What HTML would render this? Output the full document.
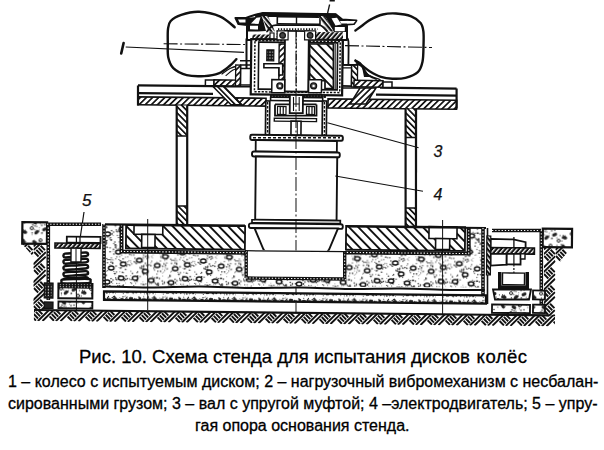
<!DOCTYPE html>
<html><head><meta charset="utf-8">
<style>
html,body{margin:0;padding:0;background:#fff;}
body{width:604px;height:450px;overflow:hidden;position:relative;font-family:"Liberation Sans",sans-serif;color:#111;}
.t{position:absolute;white-space:nowrap;left:0;color:#000;-webkit-text-stroke:0.3px #000;}
#t0{font-size:18.5px;left:79px;top:346px;}
#t1{font-size:16px;left:8px;top:372.9px;}
#t2{font-size:16px;left:8px;top:394.7px;}
#t3{font-size:16px;left:195px;top:416.8px;}
svg{position:absolute;left:0;top:0;}
.lb{position:absolute;font-family:"Liberation Sans",sans-serif;font-style:italic;font-size:15px;line-height:1;color:#111;-webkit-text-stroke:0.25px #111;}
</style></head><body>
<svg width="604" height="340" viewBox="0 0 604 340"><defs><pattern id="hA" patternUnits="userSpaceOnUse" width="4.3" height="4.3" patternTransform="rotate(45)"><rect width="4.3" height="4.3" fill="#fff"/><rect width="1.7" height="4.3" fill="#111"/></pattern><pattern id="hB" patternUnits="userSpaceOnUse" width="4.3" height="4.3" patternTransform="rotate(-45)"><rect width="4.3" height="4.3" fill="#fff"/><rect width="1.7" height="4.3" fill="#111"/></pattern><pattern id="hBw" patternUnits="userSpaceOnUse" width="6.6" height="6.6" patternTransform="rotate(-45)"><rect width="6.6" height="6.6" fill="#fff"/><rect width="1.9" height="6.6" fill="#111"/></pattern><pattern id="hAw" patternUnits="userSpaceOnUse" width="5.5" height="5.5" patternTransform="rotate(45)"><rect width="5.5" height="5.5" fill="#fff"/><rect width="1.6" height="5.5" fill="#111"/></pattern><pattern id="hX" patternUnits="userSpaceOnUse" width="2.6" height="2.6"><rect width="2.6" height="2.6" fill="#fff"/><rect width="1.3" height="1.3" fill="#111"/></pattern><pattern id="sB" patternUnits="userSpaceOnUse" width="3.6" height="3.6" patternTransform="rotate(-40)"><rect width="3.6" height="3.6" fill="#111"/><rect width="1.4" height="3.6" fill="#fff"/></pattern><pattern id="sA" patternUnits="userSpaceOnUse" width="3.4" height="3.4" patternTransform="rotate(40)"><rect width="3.4" height="3.4" fill="#111"/><rect width="1.3" height="3.4" fill="#fff"/></pattern><pattern id="sD" patternUnits="userSpaceOnUse" width="3" height="3"><rect width="3" height="3" fill="#111"/><rect x="0.8" y="0.8" width="1.2" height="1.2" fill="#fff"/></pattern><pattern id="conc" patternUnits="userSpaceOnUse" width="64" height="48"><rect width="64" height="48" fill="#fff"/><circle cx="20.73" cy="7.24" r="0.66" fill="#222"/><circle cx="4.64" cy="25.72" r="0.55" fill="#222"/><circle cx="3.71" cy="24.36" r="0.41" fill="#222"/><circle cx="27.75" cy="3.35" r="0.44" fill="#222"/><circle cx="27.17" cy="39.69" r="0.45" fill="#222"/><circle cx="14.29" cy="30.12" r="0.78" fill="#222"/><circle cx="36.93" cy="19.04" r="0.79" fill="#222"/><circle cx="2.98" cy="41.21" r="0.52" fill="#222"/><circle cx="9.23" cy="5.65" r="0.52" fill="#222"/><circle cx="52.23" cy="8.67" r="0.63" fill="#222"/><circle cx="40.89" cy="17.88" r="0.62" fill="#222"/><circle cx="4.02" cy="2.86" r="0.48" fill="#222"/><circle cx="43.55" cy="20.52" r="0.53" fill="#222"/><circle cx="37.48" cy="21.75" r="0.52" fill="#222"/><circle cx="50.84" cy="33.55" r="0.5" fill="#222"/><circle cx="36.76" cy="25.21" r="0.75" fill="#222"/><circle cx="46.68" cy="13.82" r="0.79" fill="#222"/><circle cx="7.56" cy="20.07" r="0.7" fill="#222"/><circle cx="9.73" cy="23.47" r="0.42" fill="#222"/><circle cx="42.77" cy="36.7" r="0.63" fill="#222"/><circle cx="56.03" cy="15.06" r="0.68" fill="#222"/><circle cx="38.04" cy="27.83" r="0.58" fill="#222"/><circle cx="53.76" cy="45.34" r="0.59" fill="#222"/><circle cx="42.51" cy="2.91" r="0.68" fill="#222"/><circle cx="41.42" cy="47.67" r="0.73" fill="#222"/><circle cx="18.21" cy="18.52" r="0.67" fill="#222"/><circle cx="1.44" cy="22.16" r="0.47" fill="#222"/><circle cx="7.49" cy="2.83" r="0.71" fill="#222"/><circle cx="8.28" cy="11.89" r="0.56" fill="#222"/><circle cx="55.77" cy="3.87" r="0.58" fill="#222"/><circle cx="35.16" cy="42.4" r="0.73" fill="#222"/><circle cx="55.3" cy="13.36" r="0.57" fill="#222"/><circle cx="22.96" cy="42.44" r="0.78" fill="#222"/><circle cx="9.66" cy="8.46" r="0.49" fill="#222"/><circle cx="14.93" cy="23.28" r="0.64" fill="#222"/><circle cx="16.82" cy="0.2" r="0.57" fill="#222"/><circle cx="23.63" cy="27.18" r="0.78" fill="#222"/><circle cx="44.19" cy="24.74" r="0.65" fill="#222"/><circle cx="43.28" cy="2.59" r="0.76" fill="#222"/><circle cx="49.92" cy="41.98" r="0.72" fill="#222"/><circle cx="25.11" cy="19.15" r="0.44" fill="#222"/><circle cx="40.59" cy="2.99" r="0.43" fill="#222"/><circle cx="13.36" cy="7.79" r="0.54" fill="#222"/><circle cx="3.36" cy="0.01" r="0.46" fill="#222"/><circle cx="6.49" cy="17.45" r="0.41" fill="#222"/><circle cx="55.96" cy="29.48" r="0.46" fill="#222"/><circle cx="16.14" cy="16.67" r="0.55" fill="#222"/><circle cx="7.86" cy="40.75" r="0.8" fill="#222"/><circle cx="29.82" cy="23.22" r="0.43" fill="#222"/><circle cx="6.54" cy="16.45" r="0.51" fill="#222"/><circle cx="53.05" cy="7.75" r="0.41" fill="#222"/><circle cx="60.86" cy="25.36" r="0.46" fill="#222"/><circle cx="34.76" cy="1.3" r="0.61" fill="#222"/><circle cx="62.62" cy="41.44" r="0.68" fill="#222"/><circle cx="16.71" cy="17.6" r="0.47" fill="#222"/><circle cx="49.4" cy="25.56" r="0.71" fill="#222"/><circle cx="21.1" cy="10.71" r="0.72" fill="#222"/><circle cx="63.04" cy="40.93" r="0.72" fill="#222"/><circle cx="52.37" cy="35.51" r="0.49" fill="#222"/><circle cx="33.13" cy="17.07" r="0.41" fill="#222"/><circle cx="1.79" cy="13.41" r="0.5" fill="#222"/><circle cx="44.32" cy="45.91" r="0.58" fill="#222"/><circle cx="59.97" cy="47.43" r="0.78" fill="#222"/><circle cx="23.34" cy="10.58" r="0.49" fill="#222"/><circle cx="12.59" cy="9.81" r="0.65" fill="#222"/><circle cx="57.62" cy="40.34" r="0.59" fill="#222"/><circle cx="41.79" cy="38.38" r="0.43" fill="#222"/><circle cx="42.28" cy="43.67" r="0.71" fill="#222"/><circle cx="48.01" cy="22.95" r="0.47" fill="#222"/><circle cx="50.5" cy="15.96" r="0.72" fill="#222"/><circle cx="62.19" cy="19" r="0.56" fill="#222"/><circle cx="60.6" cy="34.79" r="0.47" fill="#222"/><circle cx="8.13" cy="7.26" r="0.76" fill="#222"/><circle cx="51.62" cy="7.02" r="0.73" fill="#222"/><circle cx="62.74" cy="31.55" r="0.54" fill="#222"/><circle cx="35.11" cy="6.29" r="0.41" fill="#222"/><circle cx="62.14" cy="31.18" r="0.61" fill="#222"/><circle cx="59.75" cy="20.82" r="0.75" fill="#222"/><circle cx="52.87" cy="10.13" r="0.5" fill="#222"/><circle cx="18.75" cy="11.55" r="0.63" fill="#222"/><circle cx="16.6" cy="20.11" r="0.45" fill="#222"/><circle cx="58.24" cy="16.98" r="0.58" fill="#222"/><circle cx="37.33" cy="43.41" r="0.57" fill="#222"/><circle cx="58.73" cy="24.08" r="0.61" fill="#222"/><circle cx="33.5" cy="0.9" r="0.58" fill="#222"/><circle cx="11.72" cy="0.19" r="0.72" fill="#222"/><circle cx="11.03" cy="22.73" r="0.69" fill="#222"/><circle cx="35.61" cy="15.65" r="0.61" fill="#222"/><circle cx="35.55" cy="37.65" r="0.44" fill="#222"/><circle cx="35.86" cy="11.93" r="0.51" fill="#222"/><circle cx="49.42" cy="24.37" r="0.62" fill="#222"/><circle cx="48.64" cy="43.8" r="0.58" fill="#222"/><circle cx="39.2" cy="24.27" r="0.6" fill="#222"/><circle cx="44.33" cy="21.71" r="0.61" fill="#222"/><circle cx="30.59" cy="45.19" r="0.68" fill="#222"/><circle cx="56.1" cy="45.22" r="0.5" fill="#222"/><circle cx="35.81" cy="45.28" r="0.74" fill="#222"/><circle cx="8.78" cy="5.84" r="0.58" fill="#222"/><circle cx="4.64" cy="11.55" r="0.43" fill="#222"/><circle cx="42.85" cy="37.63" r="0.76" fill="#222"/><circle cx="9.88" cy="34.37" r="0.66" fill="#222"/><circle cx="9.15" cy="42.38" r="0.79" fill="#222"/><circle cx="14.05" cy="45.72" r="0.56" fill="#222"/><circle cx="31.18" cy="47.51" r="0.73" fill="#222"/><circle cx="10.33" cy="20.71" r="0.61" fill="#222"/><circle cx="21.7" cy="9.4" r="0.53" fill="#222"/><circle cx="46.22" cy="0.94" r="0.62" fill="#222"/><circle cx="28.19" cy="0.87" r="0.53" fill="#222"/><circle cx="39.93" cy="24.59" r="0.43" fill="#222"/><circle cx="63.05" cy="37.84" r="0.79" fill="#222"/><circle cx="6.71" cy="12.75" r="0.42" fill="#222"/><circle cx="49.86" cy="12.98" r="0.45" fill="#222"/><circle cx="27.02" cy="43.75" r="0.73" fill="#222"/><circle cx="16.55" cy="7.17" r="0.77" fill="#222"/><circle cx="36.52" cy="33.62" r="0.44" fill="#222"/><circle cx="3.68" cy="33.03" r="0.57" fill="#222"/><circle cx="4.63" cy="45.04" r="0.65" fill="#222"/><circle cx="51.3" cy="4.02" r="0.74" fill="#222"/><circle cx="4.26" cy="41.41" r="0.58" fill="#222"/><circle cx="21.71" cy="26.55" r="0.77" fill="#222"/><circle cx="17.14" cy="6.2" r="0.61" fill="#222"/><circle cx="15.26" cy="5.25" r="0.46" fill="#222"/><circle cx="3.22" cy="9.68" r="0.52" fill="#222"/><circle cx="19.52" cy="36.46" r="0.52" fill="#222"/><circle cx="32.01" cy="8.54" r="0.54" fill="#222"/><circle cx="1.16" cy="12.02" r="0.41" fill="#222"/><circle cx="46.92" cy="26.45" r="0.48" fill="#222"/><circle cx="30.38" cy="44.86" r="0.44" fill="#222"/><circle cx="52.41" cy="20.74" r="0.6" fill="#222"/><circle cx="53.42" cy="18.87" r="0.6" fill="#222"/><circle cx="44.02" cy="47.16" r="0.54" fill="#222"/><circle cx="53.27" cy="33.92" r="0.65" fill="#222"/><circle cx="25.9" cy="16.68" r="0.42" fill="#222"/><circle cx="8.31" cy="3.39" r="0.7" fill="#222"/><circle cx="16.36" cy="7.84" r="0.43" fill="#222"/><circle cx="53.84" cy="41.79" r="0.67" fill="#222"/><circle cx="18.04" cy="11.63" r="0.52" fill="#222"/><circle cx="29.4" cy="7.56" r="0.58" fill="#222"/><circle cx="16.85" cy="46.17" r="0.79" fill="#222"/><circle cx="35.01" cy="11.73" r="0.79" fill="#222"/><circle cx="19.81" cy="17.12" r="0.4" fill="#222"/><circle cx="24.42" cy="22.78" r="0.6" fill="#222"/><circle cx="12.86" cy="24.23" r="0.4" fill="#222"/><circle cx="16.91" cy="4.31" r="0.56" fill="#222"/><circle cx="2.67" cy="1.08" r="0.52" fill="#222"/><circle cx="14.9" cy="28.11" r="0.61" fill="#222"/><circle cx="48.03" cy="31.56" r="0.69" fill="#222"/><circle cx="56.26" cy="18.7" r="0.53" fill="#222"/><circle cx="63.02" cy="7.17" r="0.69" fill="#222"/><circle cx="41.17" cy="2.1" r="0.73" fill="#222"/><circle cx="57.08" cy="30.11" r="0.69" fill="#222"/><circle cx="51.98" cy="6.69" r="0.61" fill="#222"/><circle cx="32.28" cy="40.08" r="0.72" fill="#222"/><circle cx="52.89" cy="28.03" r="0.76" fill="#222"/><circle cx="43.71" cy="33.28" r="0.49" fill="#222"/><circle cx="1.99" cy="6.39" r="0.54" fill="#222"/><circle cx="6.71" cy="40.12" r="0.62" fill="#222"/><circle cx="40.18" cy="30.06" r="0.67" fill="#222"/><circle cx="31.31" cy="0.16" r="0.72" fill="#222"/><circle cx="47.89" cy="24.14" r="0.61" fill="#222"/><circle cx="42.2" cy="3.17" r="0.69" fill="#222"/><circle cx="16.14" cy="3.57" r="0.51" fill="#222"/><circle cx="46.68" cy="9.85" r="0.7" fill="#222"/><circle cx="62.45" cy="23.71" r="0.55" fill="#222"/><circle cx="30.66" cy="32.82" r="0.71" fill="#222"/><circle cx="39.49" cy="30.85" r="0.43" fill="#222"/><circle cx="9.44" cy="12.19" r="0.7" fill="#222"/><circle cx="19.48" cy="27.25" r="0.4" fill="#222"/><circle cx="3.88" cy="12.9" r="0.67" fill="#222"/><circle cx="44.3" cy="32.43" r="0.52" fill="#222"/><circle cx="33.06" cy="22.3" r="0.59" fill="#222"/><circle cx="7.58" cy="42.9" r="0.48" fill="#222"/><circle cx="62.6" cy="44.94" r="0.41" fill="#222"/><circle cx="29.37" cy="39.36" r="0.79" fill="#222"/><circle cx="28.76" cy="12.9" r="0.48" fill="#222"/><circle cx="60.52" cy="10.11" r="0.63" fill="#222"/><circle cx="9.07" cy="25.16" r="0.78" fill="#222"/><circle cx="8.49" cy="39.37" r="0.6" fill="#222"/><circle cx="56.76" cy="33.76" r="0.49" fill="#222"/><circle cx="57.45" cy="23.33" r="0.41" fill="#222"/><circle cx="0.23" cy="23.6" r="0.58" fill="#222"/><circle cx="19.32" cy="6.75" r="0.54" fill="#222"/><circle cx="20.23" cy="40.33" r="0.4" fill="#222"/><circle cx="48.05" cy="40.28" r="0.45" fill="#222"/><circle cx="59.29" cy="34.23" r="0.76" fill="#222"/><circle cx="18.55" cy="17.87" r="0.56" fill="#222"/><circle cx="63.92" cy="28.28" r="0.54" fill="#222"/><circle cx="27.4" cy="13.21" r="0.42" fill="#222"/><circle cx="6.51" cy="40.06" r="0.51" fill="#222"/><circle cx="59.88" cy="11.97" r="0.51" fill="#222"/><circle cx="32.7" cy="9.11" r="0.55" fill="#222"/><circle cx="61.19" cy="42.44" r="0.72" fill="#222"/><circle cx="40.38" cy="43.84" r="0.78" fill="#222"/><circle cx="35.15" cy="34.54" r="0.42" fill="#222"/><circle cx="46.87" cy="21.64" r="0.7" fill="#222"/><circle cx="41.25" cy="13.74" r="0.42" fill="#222"/><circle cx="59.31" cy="6.11" r="0.59" fill="#222"/><circle cx="21.99" cy="14.29" r="0.7" fill="#222"/><circle cx="62.48" cy="12.49" r="0.66" fill="#222"/><circle cx="19.25" cy="26.75" r="0.56" fill="#222"/><circle cx="10.71" cy="7.76" r="0.48" fill="#222"/><circle cx="57.98" cy="23.86" r="0.49" fill="#222"/><circle cx="58" cy="47.83" r="0.58" fill="#222"/><circle cx="8.93" cy="9.24" r="0.44" fill="#222"/><circle cx="21.89" cy="4.37" r="0.5" fill="#222"/><circle cx="16.53" cy="27.34" r="0.75" fill="#222"/><circle cx="47.98" cy="19.81" r="0.57" fill="#222"/><circle cx="33.55" cy="18.09" r="0.54" fill="#222"/><circle cx="3.97" cy="13.32" r="0.79" fill="#222"/><circle cx="8.06" cy="24.16" r="0.65" fill="#222"/><circle cx="55.22" cy="10.37" r="0.51" fill="#222"/><circle cx="15.9" cy="19.19" r="0.58" fill="#222"/><circle cx="61.05" cy="40.74" r="0.75" fill="#222"/><circle cx="1.4" cy="1.55" r="0.68" fill="#222"/><circle cx="57.32" cy="22.72" r="0.63" fill="#222"/><circle cx="0.01" cy="18.79" r="0.77" fill="#222"/><circle cx="52.84" cy="41.06" r="0.79" fill="#222"/><circle cx="15.9" cy="5.23" r="0.46" fill="#222"/><circle cx="33.43" cy="32.74" r="0.78" fill="#222"/><circle cx="46.19" cy="31.07" r="0.71" fill="#222"/><circle cx="29.27" cy="26.47" r="0.42" fill="#222"/><circle cx="50.07" cy="11.16" r="0.77" fill="#222"/><circle cx="41.31" cy="14.58" r="0.45" fill="#222"/><circle cx="16.11" cy="30.54" r="0.68" fill="#222"/><circle cx="7.18" cy="3.38" r="0.61" fill="#222"/><circle cx="37.31" cy="18.63" r="0.49" fill="#222"/><circle cx="38.47" cy="0.5" r="0.52" fill="#222"/><circle cx="29.48" cy="46.03" r="0.66" fill="#222"/><circle cx="56.56" cy="22.81" r="0.49" fill="#222"/><circle cx="15.81" cy="46.11" r="0.68" fill="#222"/><circle cx="19.67" cy="1.05" r="0.6" fill="#222"/><circle cx="43.17" cy="20.16" r="0.5" fill="#222"/><circle cx="42.71" cy="44.41" r="0.49" fill="#222"/><circle cx="2.18" cy="16.23" r="0.57" fill="#222"/><circle cx="43.68" cy="9.51" r="0.72" fill="#222"/><circle cx="47.3" cy="24.23" r="0.48" fill="#222"/><circle cx="62.07" cy="14.96" r="0.73" fill="#222"/><circle cx="14.77" cy="10.63" r="0.7" fill="#222"/><circle cx="18.88" cy="45.69" r="0.6" fill="#222"/><circle cx="11.99" cy="10.72" r="0.57" fill="#222"/><circle cx="42.58" cy="45.54" r="0.46" fill="#222"/><circle cx="25.18" cy="10.22" r="0.79" fill="#222"/><circle cx="9.08" cy="2.49" r="0.42" fill="#222"/><circle cx="25.17" cy="43.11" r="0.75" fill="#222"/><circle cx="46.89" cy="47.88" r="0.77" fill="#222"/><circle cx="21.07" cy="8.9" r="0.77" fill="#222"/><circle cx="47.76" cy="1.53" r="0.67" fill="#222"/><circle cx="24.23" cy="17.95" r="0.53" fill="#222"/><circle cx="10.83" cy="0.14" r="0.51" fill="#222"/><circle cx="22.49" cy="45.86" r="0.45" fill="#222"/><circle cx="61.71" cy="9.96" r="0.54" fill="#222"/><circle cx="52.58" cy="39.46" r="0.57" fill="#222"/><circle cx="3.15" cy="22.73" r="0.55" fill="#222"/><circle cx="58.85" cy="9.27" r="0.55" fill="#222"/><circle cx="57.41" cy="1.45" r="0.56" fill="#222"/><circle cx="51.96" cy="36.8" r="0.42" fill="#222"/><circle cx="2.23" cy="3" r="0.77" fill="#222"/><circle cx="16.45" cy="35.87" r="0.76" fill="#222"/><circle cx="21.7" cy="13.07" r="0.78" fill="#222"/><circle cx="39.49" cy="12.58" r="0.69" fill="#222"/><circle cx="20.25" cy="13.23" r="0.4" fill="#222"/><circle cx="48.36" cy="43.99" r="0.65" fill="#222"/><circle cx="60.37" cy="1.16" r="0.49" fill="#222"/><circle cx="30.41" cy="45.93" r="0.78" fill="#222"/><circle cx="24.74" cy="12.05" r="0.57" fill="#222"/><circle cx="31.58" cy="44.55" r="0.47" fill="#222"/><circle cx="51.36" cy="35.45" r="0.73" fill="#222"/><circle cx="49.46" cy="29.15" r="0.53" fill="#222"/><circle cx="20.45" cy="17.37" r="0.71" fill="#222"/><circle cx="5.06" cy="9.47" r="0.7" fill="#222"/><circle cx="15.83" cy="3.11" r="0.41" fill="#222"/><circle cx="35.37" cy="15.64" r="0.79" fill="#222"/><circle cx="56.54" cy="47.42" r="0.51" fill="#222"/><circle cx="5.38" cy="4.63" r="0.6" fill="#222"/><circle cx="45.43" cy="21.45" r="0.49" fill="#222"/><circle cx="26.68" cy="29.77" r="0.67" fill="#222"/><circle cx="47.87" cy="40.66" r="0.67" fill="#222"/><circle cx="7.75" cy="40.36" r="0.52" fill="#222"/><circle cx="36.28" cy="17.9" r="0.7" fill="#222"/><circle cx="12.75" cy="11.88" r="0.5" fill="#222"/><circle cx="9.81" cy="42.44" r="0.63" fill="#222"/><circle cx="20.89" cy="19.01" r="0.8" fill="#222"/><circle cx="32.47" cy="11.11" r="0.72" fill="#222"/><circle cx="41.81" cy="47.57" r="0.44" fill="#222"/><circle cx="30.38" cy="39.32" r="0.74" fill="#222"/><circle cx="58.52" cy="1.94" r="0.52" fill="#222"/><circle cx="7.63" cy="9.1" r="0.79" fill="#222"/><circle cx="37.32" cy="44.65" r="0.55" fill="#222"/><circle cx="55.43" cy="21.56" r="0.5" fill="#222"/><circle cx="49.78" cy="45.39" r="0.44" fill="#222"/><circle cx="38.15" cy="29.76" r="0.49" fill="#222"/><circle cx="23.6" cy="6.79" r="0.48" fill="#222"/><circle cx="16.31" cy="28.77" r="0.66" fill="#222"/><circle cx="13.02" cy="0.55" r="0.53" fill="#222"/><circle cx="43.41" cy="8.89" r="0.52" fill="#222"/><circle cx="13.02" cy="38.17" r="0.62" fill="#222"/><circle cx="4.05" cy="4.87" r="0.56" fill="#222"/><circle cx="35.21" cy="30.68" r="0.44" fill="#222"/><circle cx="10.48" cy="33.38" r="0.56" fill="#222"/><circle cx="18.13" cy="14.76" r="0.78" fill="#222"/><circle cx="19.99" cy="27.19" r="0.54" fill="#222"/><circle cx="26.65" cy="41.48" r="0.8" fill="#222"/><circle cx="23.28" cy="9.47" r="0.69" fill="#222"/><circle cx="13.03" cy="0.28" r="0.76" fill="#222"/><circle cx="27.12" cy="39.38" r="0.56" fill="#222"/><circle cx="56.5" cy="22.12" r="0.47" fill="#222"/><circle cx="0.95" cy="26.47" r="0.66" fill="#222"/><circle cx="58.23" cy="4.27" r="0.65" fill="#222"/><circle cx="23.73" cy="24.21" r="0.46" fill="#222"/><circle cx="18.13" cy="25.02" r="0.77" fill="#222"/><circle cx="6.96" cy="23.54" r="0.72" fill="#222"/><circle cx="61.88" cy="9.47" r="0.45" fill="#222"/><circle cx="60.36" cy="46.83" r="0.59" fill="#222"/><circle cx="3.42" cy="44.46" r="0.56" fill="#222"/><circle cx="57.87" cy="29.78" r="0.73" fill="#222"/><circle cx="10.26" cy="37.72" r="0.49" fill="#222"/><circle cx="25.89" cy="40.62" r="0.73" fill="#222"/><circle cx="11.71" cy="10.47" r="0.56" fill="#222"/><circle cx="33.15" cy="18.41" r="0.45" fill="#222"/><circle cx="15.81" cy="34.79" r="0.76" fill="#222"/><circle cx="2.63" cy="26.99" r="0.7" fill="#222"/><circle cx="2.44" cy="40.23" r="0.45" fill="#222"/><circle cx="38.37" cy="26.4" r="0.65" fill="#222"/><circle cx="19.6" cy="20.16" r="0.63" fill="#222"/><circle cx="27.25" cy="31.62" r="0.58" fill="#222"/><circle cx="28.05" cy="1.12" r="0.65" fill="#222"/><circle cx="31.33" cy="11.29" r="0.71" fill="#222"/><circle cx="49.92" cy="22" r="0.47" fill="#222"/><circle cx="30.29" cy="5.14" r="0.45" fill="#222"/><circle cx="27.56" cy="4.4" r="0.58" fill="#222"/><circle cx="32.65" cy="1.96" r="0.65" fill="#222"/><circle cx="5.26" cy="35.21" r="0.71" fill="#222"/><circle cx="32.73" cy="2.6" r="0.6" fill="#222"/><circle cx="24.18" cy="45.64" r="0.45" fill="#222"/><circle cx="54.85" cy="47.81" r="0.69" fill="#222"/><circle cx="52.16" cy="9.3" r="0.79" fill="#222"/><circle cx="31.48" cy="45.92" r="0.77" fill="#222"/><circle cx="10.57" cy="37.84" r="0.77" fill="#222"/><circle cx="4.19" cy="16.84" r="0.7" fill="#222"/><circle cx="10.16" cy="43.03" r="0.51" fill="#222"/><circle cx="52.2" cy="6.89" r="0.6" fill="#222"/><circle cx="58.87" cy="10" r="0.51" fill="#222"/><circle cx="32.38" cy="15.32" r="0.41" fill="#222"/><circle cx="11.65" cy="7.74" r="0.77" fill="#222"/><circle cx="43.5" cy="42.98" r="0.47" fill="#222"/><circle cx="50.23" cy="5.52" r="0.61" fill="#222"/><circle cx="40.72" cy="17.27" r="0.75" fill="#222"/><circle cx="35.53" cy="27.84" r="0.75" fill="#222"/><circle cx="6.69" cy="47.66" r="0.65" fill="#222"/><circle cx="25.23" cy="38.29" r="0.51" fill="#222"/><circle cx="63.39" cy="27.71" r="0.54" fill="#222"/><circle cx="48.94" cy="21.23" r="0.47" fill="#222"/><circle cx="47.59" cy="2.32" r="0.73" fill="#222"/><circle cx="16.23" cy="30.68" r="0.79" fill="#222"/><circle cx="37.5" cy="31.86" r="0.53" fill="#222"/><circle cx="0.11" cy="1.62" r="0.46" fill="#222"/><circle cx="39.43" cy="20.75" r="0.61" fill="#222"/><circle cx="57.31" cy="6.34" r="0.49" fill="#222"/><circle cx="41.8" cy="1.07" r="0.4" fill="#222"/><circle cx="22.72" cy="5.11" r="0.54" fill="#222"/><circle cx="14.35" cy="28.01" r="0.64" fill="#222"/><circle cx="13.07" cy="29.95" r="0.59" fill="#222"/><circle cx="8.62" cy="44.96" r="0.5" fill="#222"/><circle cx="9.56" cy="4.6" r="0.66" fill="#222"/><circle cx="55.76" cy="37.54" r="0.56" fill="#222"/><circle cx="16.91" cy="0.55" r="0.66" fill="#222"/><circle cx="35.99" cy="16.82" r="0.66" fill="#222"/><circle cx="28.4" cy="44.98" r="0.69" fill="#222"/><circle cx="15.9" cy="43.37" r="0.42" fill="#222"/><circle cx="34.02" cy="19.49" r="0.5" fill="#222"/><circle cx="3.74" cy="37.39" r="0.4" fill="#222"/><circle cx="35.26" cy="45.16" r="0.46" fill="#222"/><circle cx="12.77" cy="29.19" r="0.6" fill="#222"/><circle cx="41.06" cy="39.04" r="0.47" fill="#222"/><circle cx="19.8" cy="14.41" r="0.42" fill="#222"/><circle cx="56.92" cy="37.58" r="0.69" fill="#222"/><circle cx="0.41" cy="40.53" r="0.7" fill="#222"/><circle cx="29.78" cy="35.6" r="0.58" fill="#222"/><circle cx="14.46" cy="5.05" r="0.49" fill="#222"/><circle cx="2.48" cy="16.1" r="0.7" fill="#222"/><ellipse cx="6" cy="6" rx="2.7" ry="2.0" fill="#fff" stroke="#111" stroke-width="1.5"/><ellipse cx="22" cy="10" rx="2.7" ry="2.0" fill="#fff" stroke="#111" stroke-width="1.5"/><ellipse cx="40" cy="5" rx="2.7" ry="2.0" fill="#fff" stroke="#111" stroke-width="1.5"/><ellipse cx="55" cy="14" rx="2.7" ry="2.0" fill="#fff" stroke="#111" stroke-width="1.5"/><ellipse cx="12" cy="22" rx="2.7" ry="2.0" fill="#fff" stroke="#111" stroke-width="1.5"/><ellipse cx="30" cy="27" rx="2.7" ry="2.0" fill="#fff" stroke="#111" stroke-width="1.5"/><ellipse cx="48" cy="30" rx="2.7" ry="2.0" fill="#fff" stroke="#111" stroke-width="1.5"/><ellipse cx="8" cy="40" rx="2.7" ry="2.0" fill="#fff" stroke="#111" stroke-width="1.5"/><ellipse cx="24" cy="42" rx="2.7" ry="2.0" fill="#fff" stroke="#111" stroke-width="1.5"/><ellipse cx="58" cy="40" rx="2.7" ry="2.0" fill="#fff" stroke="#111" stroke-width="1.5"/><ellipse cx="38" cy="18" rx="2.7" ry="2.0" fill="#fff" stroke="#111" stroke-width="1.5"/><ellipse cx="44" cy="44" rx="2.7" ry="2.0" fill="#fff" stroke="#111" stroke-width="1.5"/><ellipse cx="18" cy="33" rx="2.7" ry="2.0" fill="#fff" stroke="#111" stroke-width="1.5"/><ellipse cx="60" cy="26" rx="2.7" ry="2.0" fill="#fff" stroke="#111" stroke-width="1.5"/></pattern><pattern id="conc3" patternUnits="userSpaceOnUse" width="40" height="9"><rect width="40" height="9" fill="#fff"/><circle cx="27.8" cy="6.92" r="0.68" fill="#222"/><circle cx="10.64" cy="4.88" r="0.57" fill="#222"/><circle cx="31.54" cy="4.66" r="0.51" fill="#222"/><circle cx="25.68" cy="7.76" r="0.49" fill="#222"/><circle cx="35.2" cy="1.11" r="0.5" fill="#222"/><circle cx="9.44" cy="6.21" r="0.78" fill="#222"/><circle cx="29.85" cy="3.29" r="0.75" fill="#222"/><circle cx="13.14" cy="2.67" r="0.76" fill="#222"/><circle cx="25.23" cy="5.85" r="0.67" fill="#222"/><circle cx="39.16" cy="4.29" r="0.74" fill="#222"/><circle cx="27.9" cy="7" r="0.57" fill="#222"/><circle cx="28.98" cy="4.99" r="0.52" fill="#222"/><circle cx="8.48" cy="5.36" r="0.43" fill="#222"/><circle cx="36.43" cy="2.01" r="0.41" fill="#222"/><circle cx="4.27" cy="7.5" r="0.54" fill="#222"/><circle cx="5.67" cy="1.2" r="0.42" fill="#222"/><circle cx="27.71" cy="5.44" r="0.68" fill="#222"/><circle cx="29.47" cy="1.46" r="0.64" fill="#222"/><circle cx="14.54" cy="6.72" r="0.73" fill="#222"/><circle cx="35.65" cy="1.46" r="0.75" fill="#222"/><circle cx="36.58" cy="7.61" r="0.44" fill="#222"/><circle cx="8.23" cy="1.78" r="0.41" fill="#222"/><circle cx="33.91" cy="6.68" r="0.65" fill="#222"/><circle cx="33" cy="5.42" r="0.51" fill="#222"/><circle cx="4" cy="1.69" r="0.7" fill="#222"/><circle cx="8.2" cy="3.23" r="0.57" fill="#222"/><circle cx="0.84" cy="2.8" r="0.51" fill="#222"/><circle cx="28.63" cy="3.58" r="0.53" fill="#222"/><circle cx="38.56" cy="4.53" r="0.74" fill="#222"/><circle cx="24.73" cy="1.22" r="0.57" fill="#222"/><circle cx="17.46" cy="6.41" r="0.54" fill="#222"/><circle cx="28.19" cy="4.77" r="0.49" fill="#222"/><circle cx="34.49" cy="1.64" r="0.73" fill="#222"/><circle cx="6.81" cy="1.01" r="0.48" fill="#222"/><circle cx="30.49" cy="7.85" r="0.4" fill="#222"/><circle cx="19.63" cy="4.44" r="0.72" fill="#222"/><circle cx="7.38" cy="4.46" r="0.54" fill="#222"/><circle cx="33.27" cy="2.82" r="0.78" fill="#222"/><circle cx="11.35" cy="2.5" r="0.68" fill="#222"/><circle cx="19.93" cy="1.77" r="0.65" fill="#222"/><ellipse cx="3" cy="4.5" rx="2.0" ry="1.7" fill="#222"/><ellipse cx="8" cy="5.5" rx="1.4" ry="1.7" fill="#222"/><ellipse cx="12" cy="3.5" rx="2.2" ry="1.7" fill="#222"/><ellipse cx="17" cy="5" rx="1.8" ry="1.7" fill="#222"/><ellipse cx="21" cy="3.5" rx="1.3" ry="1.7" fill="#222"/><ellipse cx="25" cy="4.5" rx="2.4" ry="1.7" fill="#222"/><ellipse cx="31" cy="5" rx="1.9" ry="1.7" fill="#222"/><ellipse cx="36" cy="3.8" rx="2.1" ry="1.7" fill="#222"/><line x1="5" y1="6" x2="8" y2="2" stroke="#222" stroke-width="1.2"/><line x1="13" y1="7" x2="16" y2="3" stroke="#222" stroke-width="1.2"/><line x1="20" y1="2" x2="22" y2="7" stroke="#222" stroke-width="1.2"/><line x1="27" y1="6" x2="29" y2="2" stroke="#222" stroke-width="1.2"/><line x1="34" y1="7" x2="36" y2="3" stroke="#222" stroke-width="1.2"/></pattern><pattern id="conc2" patternUnits="userSpaceOnUse" width="30" height="20"><rect width="30" height="20" fill="#fff"/><circle cx="2.43" cy="15.76" r="0.68" fill="#222"/><circle cx="23.61" cy="12.56" r="0.54" fill="#222"/><circle cx="12.04" cy="7.89" r="0.76" fill="#222"/><circle cx="2.59" cy="17.77" r="0.41" fill="#222"/><circle cx="6.18" cy="5.26" r="0.76" fill="#222"/><circle cx="15.04" cy="7.59" r="0.75" fill="#222"/><circle cx="7.01" cy="9.22" r="0.61" fill="#222"/><circle cx="22.63" cy="15.06" r="0.66" fill="#222"/><circle cx="10.45" cy="6.53" r="0.46" fill="#222"/><circle cx="25.29" cy="13.24" r="0.7" fill="#222"/><circle cx="5.09" cy="8.78" r="0.71" fill="#222"/><circle cx="17.38" cy="2.52" r="0.58" fill="#222"/><circle cx="26.55" cy="4.76" r="0.48" fill="#222"/><circle cx="9.05" cy="14.06" r="0.74" fill="#222"/><circle cx="4.64" cy="3.12" r="0.5" fill="#222"/><circle cx="9.8" cy="10.44" r="0.46" fill="#222"/><circle cx="9.84" cy="3.79" r="0.79" fill="#222"/><circle cx="21.86" cy="2.04" r="0.78" fill="#222"/><circle cx="3.05" cy="7.68" r="0.79" fill="#222"/><circle cx="23.85" cy="14.67" r="0.57" fill="#222"/><circle cx="5.89" cy="12.76" r="0.44" fill="#222"/><circle cx="6.19" cy="7.77" r="0.41" fill="#222"/><circle cx="11.97" cy="15.82" r="0.68" fill="#222"/><circle cx="15.01" cy="12.65" r="0.59" fill="#222"/><circle cx="4.25" cy="12.07" r="0.56" fill="#222"/><circle cx="22.23" cy="18.16" r="0.57" fill="#222"/><circle cx="17.22" cy="14.98" r="0.57" fill="#222"/><circle cx="6.86" cy="14.44" r="0.75" fill="#222"/><circle cx="23.22" cy="14" r="0.74" fill="#222"/><circle cx="20.39" cy="12.83" r="0.58" fill="#222"/><circle cx="9.39" cy="12.57" r="0.44" fill="#222"/><circle cx="12.59" cy="15.65" r="0.69" fill="#222"/><circle cx="18.89" cy="5" r="0.57" fill="#222"/><circle cx="13.66" cy="12.43" r="0.56" fill="#222"/><circle cx="20.26" cy="18.6" r="0.47" fill="#222"/><ellipse cx="5" cy="5" rx="2.6" ry="1.7" fill="#222" stroke="none" transform="rotate(30 5 5)"/><ellipse cx="15" cy="12" rx="2.6" ry="1.7" fill="#222" stroke="none" transform="rotate(-20 15 12)"/><ellipse cx="24" cy="4" rx="2.6" ry="1.7" fill="#222" stroke="none" transform="rotate(60 24 4)"/><ellipse cx="7" cy="15" rx="2.6" ry="1.7" fill="#222" stroke="none" transform="rotate(-40 7 15)"/><ellipse cx="25" cy="15" rx="2.6" ry="1.7" fill="#222" stroke="none" transform="rotate(10 25 15)"/><circle cx="11" cy="3" r="1.5" fill="none" stroke="#222" stroke-width="1"/><circle cx="19" cy="18" r="1.5" fill="none" stroke="#222" stroke-width="1"/><circle cx="2" cy="11" r="1.5" fill="none" stroke="#222" stroke-width="1"/></pattern><clipPath id="gclip"><rect x="35.16" y="312.19" width="521.08" height="11.5"/></clipPath><clipPath id="lg1"><polygon points="33.97,246.49 46.47,246.36 47.17,312.65 34.67,312.78"/></clipPath><clipPath id="lg2"><polygon points="22.47,246.61 33.97,246.49 34.11,259.79"/></clipPath><clipPath id="rg1"><polygon points="544.48,244.74 555.98,244.62 556.71,313.82 545.21,313.94"/></clipPath><clipPath id="rg2"><polygon points="555.98,244.62 571.48,244.46 560.63,259.27 556.14,259.32"/></clipPath></defs><g transform="rotate(0.6 300 200)" stroke-linecap="butt"><path d="M232.89,27.89 C230.49,26.15 224.44,19.95 218.48,17.44 C212.52,14.94 203.65,13.1 197.13,12.87 C190.62,12.64 184.08,14.47 179.37,16.05 C174.65,17.64 171.02,19.97 168.83,22.36 C166.64,24.75 166.66,26.72 166.22,30.39 C165.77,34.06 166.06,39.64 166.16,44.39 C166.26,49.14 165.85,54.71 166.81,58.89 C167.78,63.06 168.83,66.52 171.93,69.43 C175.02,72.35 180.2,75.11 185.4,76.39 C190.6,77.67 197.78,77.46 203.11,77.11 C208.44,76.75 213.25,75.93 217.38,74.26 C221.51,72.58 224.98,69.45 227.9,67.05 C230.83,64.65 233.76,61.07 234.93,59.87" fill="none" stroke="#111" stroke-width="2.4" stroke-linejoin="round" stroke-linecap="round" />
<path d="M220.68,74.82 C222.01,73.89 225.97,70.6 228.63,69.24 C231.28,67.88 233.94,67.18 236.6,66.66 C239.26,66.13 243.26,66.17 244.59,66.07" fill="none" stroke="#111" stroke-width="1.3" stroke-linejoin="round" stroke-linecap="round" />
<path d="M224.7,76.28 C225.86,75.35 229.32,71.98 231.64,70.71 C233.96,69.43 236.46,69.02 238.62,68.64 C240.78,68.25 243.62,68.42 244.62,68.37" fill="none" stroke="#111" stroke-width="1.1" stroke-linejoin="round" stroke-linecap="round" />
<path d="M353.62,29.93 C354.71,29.13 357.82,26.92 360.17,25.16 C362.52,23.4 364.27,21.3 367.71,19.38 C371.16,17.46 376.46,14.79 380.85,13.64 C385.24,12.5 389.31,12.25 394.04,12.5 C398.78,12.76 405.15,13.61 409.27,15.15 C413.39,16.69 416.68,19.23 418.74,21.75 C420.8,24.26 421.11,26.39 421.63,30.22 C422.15,34.05 421.98,39.68 421.88,44.72 C421.78,49.75 421.95,56.07 421.05,60.42 C420.14,64.78 419.26,68.16 416.45,70.87 C413.65,73.59 408.45,75.56 404.21,76.7 C399.98,77.85 395.13,77.86 391.02,77.74 C386.92,77.62 383.4,77.17 379.61,75.96 C375.81,74.75 371.42,72.33 368.25,70.48 C365.08,68.63 362.97,66.57 360.59,64.86 C358.2,63.15 355.05,61 353.94,60.23" fill="none" stroke="#111" stroke-width="2.4" stroke-linejoin="round" stroke-linecap="round" />
<path d="M354.86,62.42 C355.82,63.07 359.05,64.71 360.6,66.36 C362.15,68.01 362.57,70.75 364.17,72.32 C365.77,73.89 367.77,74.7 370.2,75.76 C372.63,76.82 377.31,78.18 378.73,78.67" fill="none" stroke="#111" stroke-width="1.3" stroke-linejoin="round" stroke-linecap="round" />
<line x1="161.97" y1="45.24" x2="244.37" y2="45.07" stroke="#111" stroke-width="1.1" stroke-dasharray="14 2.5 2 2.5"/>
<line x1="343.38" y1="45.14" x2="430.4" y2="46.13" stroke="#111" stroke-width="1.1" stroke-dasharray="14 2.5 2 2.5"/>
<line x1="124.11" y1="48.83" x2="242.46" y2="52.89" stroke="#111" stroke-width="1.2" />
<line x1="121.97" y1="44.86" x2="119.68" y2="55.38" stroke="#111" stroke-width="2.6" stroke-linecap="round"/>
<rect x="136.97" y="98.63" width="128" height="7.9" fill="url(#hA)" stroke="#111" stroke-width="1.6" />
<line x1="136.81" y1="87.1" x2="212.81" y2="87.11" stroke="#111" stroke-width="2.2" />
<line x1="136.89" y1="94.8" x2="211.89" y2="94.82" stroke="#111" stroke-width="2.2" />
<line x1="136.81" y1="87.1" x2="137.02" y2="107.2" stroke="#111" stroke-width="2.2" />
<rect x="326.99" y="98.54" width="128.6" height="9.1" fill="url(#hA)" stroke="#111" stroke-width="1.6" />
<line x1="378.82" y1="86.77" x2="455.42" y2="86.97" stroke="#111" stroke-width="2.2" />
<line x1="374.89" y1="93.91" x2="455.5" y2="93.97" stroke="#111" stroke-width="2.2" />
<line x1="455.42" y1="86.97" x2="455.63" y2="106.97" stroke="#111" stroke-width="2.2" />
<rect x="175.88" y="106.74" width="10.5" height="30.5" fill="url(#hB)" stroke="#111" stroke-width="0" />
<rect x="176.86" y="207.24" width="10.5" height="18" fill="url(#hB)" stroke="#111" stroke-width="0" />
<line x1="176.04" y1="137.29" x2="186.54" y2="137.18" stroke="#111" stroke-width="1.6" />
<line x1="176.77" y1="207.29" x2="187.27" y2="207.18" stroke="#111" stroke-width="1.6" />
<line x1="175.72" y1="106.8" x2="176.96" y2="225.29" stroke="#111" stroke-width="2.2" />
<line x1="186.22" y1="106.69" x2="187.46" y2="225.18" stroke="#111" stroke-width="2.2" />
<rect x="404.79" y="107.44" width="10.4" height="28.9" fill="url(#hB)" stroke="#111" stroke-width="0" />
<rect x="405.77" y="206.84" width="10.4" height="18.5" fill="url(#hB)" stroke="#111" stroke-width="0" />
<line x1="404.94" y1="136.4" x2="415.34" y2="136.29" stroke="#111" stroke-width="1.6" />
<line x1="405.68" y1="206.89" x2="416.08" y2="206.78" stroke="#111" stroke-width="1.6" />
<line x1="404.64" y1="107.5" x2="405.87" y2="225.39" stroke="#111" stroke-width="2.2" />
<line x1="415.04" y1="107.39" x2="416.27" y2="225.28" stroke="#111" stroke-width="2.2" />
<rect x="204.18" y="80.95" width="8.6" height="5.8" fill="#fff" stroke="#111" stroke-width="1.5" />
<rect x="212.78" y="80.78" width="23.6" height="5.8" fill="url(#hA)" stroke="#111" stroke-width="1.5" />
<rect x="234.3" y="65.66" width="5" height="20.8" fill="url(#hA)" stroke="#111" stroke-width="1.3" />
<rect x="239.29" y="65.57" width="11.4" height="20" fill="#fff" stroke="#111" stroke-width="1.6" />
<polygon points="211.82,87.42 222.82,87.3 241.01,105.41 230.01,105.53" fill="url(#hB)" stroke="#111" stroke-width="1.5" />
<line x1="222.82" y1="87.6" x2="250.82" y2="87.31" stroke="#111" stroke-width="1.6" />
<rect x="339.29" y="64.52" width="11" height="21" fill="#fff" stroke="#111" stroke-width="1.7" />
<line x1="339.21" y1="67.38" x2="350.21" y2="67.27" stroke="#111" stroke-width="1.3" />
<rect x="350.3" y="64.44" width="5.9" height="22" fill="url(#hB)" stroke="#111" stroke-width="1.3" />

<path d="M341.57,63.56 C341.53,59.72 340.93,44.8 341.33,40.56 C341.74,36.32 343.11,38.14 344.01,38.13 C344.91,38.12 346.24,36.27 346.73,40.5 C347.23,44.73 346.93,59.67 346.97,63.5" fill="none" stroke="#111" stroke-width="1.8" stroke-linejoin="round" stroke-linecap="round" />
<rect x="352.78" y="79.79" width="29" height="6.5" fill="url(#hA)" stroke="#111" stroke-width="1.5" />
<rect x="381.79" y="81.09" width="9" height="5.5" fill="#fff" stroke="#111" stroke-width="1.5" />
<polygon points="358.82,87.38 374.82,87.21 364.99,103.31 348.99,103.48" fill="url(#hA)" stroke="#111" stroke-width="1.5" />
<line x1="338.82" y1="87.59" x2="358.82" y2="87.38" stroke="#111" stroke-width="1.6" />
<path d="M353.93,59.73 C354.71,60.17 357.11,60.94 358.56,62.38 C360.01,63.81 361.27,66.35 362.62,68.34 C363.98,70.32 364.67,72.65 366.69,74.29 C368.7,75.94 373.39,77.56 374.73,78.21" fill="none" stroke="#111" stroke-width="1.8" stroke-linejoin="round" stroke-linecap="round" />
<polygon points="360.6,66.36 364.66,71.32 369.71,76.26 362.71,76.34" fill="#111" stroke="none" stroke-width="0" />
<polygon points="233.6,18.69 244.1,18.58 248.08,17.03 253.46,15.28 261.04,13.4 333.75,13.84 340.41,19.17 354.52,19.82 353.63,21.43 352.06,23.55 345.16,24.02 345.32,39.52 245.33,40.56 245.17,25.56 236.56,24.75" fill="#fff" stroke="#111" stroke-width="2.0" stroke-linejoin="round"/>
<polygon points="253.46,15.28 261.04,13.4 333.75,13.84 336.08,16.11 260.08,16.61 254.09,17.97" fill="#111" stroke="#111" stroke-width="1.2" />
<polygon points="234.1,18.88 245.1,18.76 245.17,25.56 236.56,24.75" fill="#111" stroke="none" stroke-width="0" />
<polygon points="236.11,20.26 243.61,20.18 243.65,23.18 237.75,23.24" fill="#fff" stroke="none" stroke-width="0" />
<polygon points="245.1,18.56 254.09,17.47 260.08,16.41 264.23,31.37 256.24,31.95 245.24,32.06" fill="#111" stroke="none" stroke-width="0" />
<polygon points="249.15,24.02 254.59,18.27 258.59,17.62 256.66,24.44" fill="#fff" stroke="none" stroke-width="0" />
<rect x="248.2" y="26.29" width="8" height="3.6" fill="#fff" stroke="none" stroke-width="0" />
<polygon points="259.58,16.41 266.07,16.35 273.24,31.77 266.74,32.34" fill="url(#sB)" stroke="none" stroke-width="0" />
<rect x="275.42" y="16.92" width="42.7" height="7.1" fill="#fff" stroke="#111" stroke-width="1.6" />
<line x1="294.58" y1="16.95" x2="294.66" y2="24.05" stroke="#111" stroke-width="1.4" />
<path d="M265.24,31.85 C265.9,31.1 267.7,28.38 269.19,27.31 C270.68,26.25 270.01,25.8 274.17,25.46 C278.33,25.12 287.17,25.32 294.17,25.25 C301.17,25.18 311.67,24.77 316.17,25.02 C320.67,25.27 319.68,25.73 321.19,26.77 C322.7,27.8 324.56,30.48 325.23,31.23" fill="none" stroke="#111" stroke-width="1.7" stroke-linejoin="round" stroke-linecap="round" />
<line x1="276.21" y1="29.44" x2="315.81" y2="29.03" stroke="#111" stroke-width="1.8" stroke-dasharray="1.3 1.5"/>
<polygon points="316.57,15.82 323.07,15.75 332.23,31.15 325.73,31.22" fill="url(#sB)" stroke="none" stroke-width="0" />
<polygon points="323.07,15.75 334.57,15.13 340.41,19.17 345.12,20.02 345.24,31.52 332.24,31.65" fill="#111" stroke="none" stroke-width="0" />
<polygon points="329.59,17.88 335.09,17.42 339.66,24.08 333.67,25.14" fill="#fff" stroke="none" stroke-width="0" />
<rect x="333.01" y="26.59" width="10" height="4.2" fill="#fff" stroke="none" stroke-width="0" />
<polygon points="338.12,20.59 353.62,20.43 351.65,23.05 339.15,23.18" fill="#fff" stroke="none" stroke-width="0" />
<rect x="250.59" y="34.92" width="17.7" height="4.3" fill="url(#sA)" stroke="none" stroke-width="0" />
<rect x="314.28" y="31.9" width="27" height="7" fill="url(#sA)" stroke="none" stroke-width="0" />
<rect x="268.28" y="33.3" width="4" height="6" fill="#fff" stroke="#111" stroke-width="1.2" />
<line x1="275.63" y1="30.75" x2="275.73" y2="40.25" stroke="#111" stroke-width="1.6" stroke-dasharray="1.3 1.5"/>
<rect x="249.61" y="39.54" width="91.4" height="55.3" fill="#fff" stroke="#111" stroke-width="2.2" />
<rect x="253.3" y="41.04" width="85.3" height="51.2" fill="none" stroke="#111" stroke-width="1.5" stroke-dasharray="2.2 1.4"/>
<rect x="257.1" y="42.53" width="78.9" height="47" fill="#fff" stroke="#111" stroke-width="1.6" />
<polygon points="307.97,43.91 331.76,43.66 332.23,88.16 323.83,88.24 323.75,80.44 308.35,80.61" fill="url(#hBw)" stroke="#111" stroke-width="1.7" />
<line x1="333.56" y1="43.64" x2="334.04" y2="88.64" stroke="#111" stroke-width="1.0" />
<rect x="277.56" y="44.2" width="5.7" height="36" fill="url(#hA)" stroke="#111" stroke-width="1.4" />
<rect x="265.29" y="50.22" width="7" height="10.9" fill="url(#sD)" stroke="#111" stroke-width="1.2" />
<polygon points="262.48,64.19 281.27,63.99 281.39,75.19 277.69,75.23 277.62,68.03 262.52,68.19" fill="#fff" stroke="#111" stroke-width="1.6" />
<rect x="283.25" y="31.04" width="23.9" height="60.6" fill="#fff" stroke="#111" stroke-width="1.9" />
<line x1="294.53" y1="31.05" x2="295.17" y2="92.04" stroke="#111" stroke-width="1.0" stroke-dasharray="6 2 1.5 2"/>
<rect x="275.38" y="31.09" width="11" height="9" fill="#fff" stroke="#111" stroke-width="1.2" />
<circle cx="280.88" cy="35.59" r="2.8" fill="#444" stroke="#111" stroke-width="1.2"/>
<rect x="302.88" y="30.8" width="11" height="9" fill="#fff" stroke="#111" stroke-width="1.2" />
<circle cx="308.38" cy="35.3" r="2.8" fill="#444" stroke="#111" stroke-width="1.2"/>
<rect x="270.61" y="79.93" width="12.9" height="13" fill="#fff" stroke="#111" stroke-width="1.5" />
<rect x="307.41" y="79.55" width="12.9" height="13" fill="#fff" stroke="#111" stroke-width="1.5" />
<circle cx="278.61" cy="86.12" r="3" fill="#555" stroke="#111" stroke-width="1.3"/>
<circle cx="278.61" cy="86.12" r="1.2" fill="#fff" stroke="none" stroke-width="0"/>
<circle cx="312.4" cy="85.76" r="3" fill="#555" stroke="#111" stroke-width="1.3"/>
<circle cx="312.4" cy="85.76" r="1.2" fill="#fff" stroke="none" stroke-width="0"/>
<rect x="268.92" y="95.23" width="56" height="2.4" fill="url(#sD)" stroke="none" stroke-width="0" />
<line x1="244.81" y1="39.17" x2="245.12" y2="68.57" stroke="#111" stroke-width="2.0" />
<line x1="238.55" y1="61.44" x2="249.55" y2="61.32" stroke="#111" stroke-width="1.6" />
<line x1="238.63" y1="69.14" x2="249.63" y2="69.02" stroke="#111" stroke-width="1.6" />
<line x1="340.98" y1="64.36" x2="358.58" y2="64.18" stroke="#111" stroke-width="1.6" />
<rect x="264.75" y="101.34" width="4" height="34.5" fill="#fff" stroke="#111" stroke-width="1.7" />
<line x1="266.58" y1="102.34" x2="266.92" y2="135.34" stroke="#111" stroke-width="1.4" stroke-dasharray="2.4 1.6"/>
<rect x="321.44" y="100.75" width="4.2" height="34.5" fill="#fff" stroke="#111" stroke-width="1.7" />
<line x1="323.37" y1="101.75" x2="323.72" y2="134.75" stroke="#111" stroke-width="1.4" stroke-dasharray="2.4 1.6"/>
<rect x="269.54" y="97.54" width="52.1" height="3.3" fill="#fff" stroke="#111" stroke-width="1.6" />
<polyline points="274,104.67 274.12,115.87 315.62,115.43 315.5,104.23" fill="none" stroke="#111" stroke-width="1.8" />
<line x1="274" y1="104.67" x2="288.8" y2="104.51" stroke="#111" stroke-width="1.6" />
<line x1="301.9" y1="104.37" x2="315.5" y2="104.23" stroke="#111" stroke-width="1.6" />
<rect x="276.56" y="106.7" width="8.5" height="8" fill="#fff" stroke="#111" stroke-width="1.2" />
<line x1="279.28" y1="107.21" x2="279.35" y2="114.21" stroke="#111" stroke-width="1.2" />
<line x1="282.28" y1="107.18" x2="282.35" y2="114.18" stroke="#111" stroke-width="1.2" />
<rect x="305.56" y="106.39" width="8" height="8" fill="#fff" stroke="#111" stroke-width="1.2" />
<line x1="308.03" y1="106.91" x2="308.1" y2="113.91" stroke="#111" stroke-width="1.2" />
<line x1="311.03" y1="106.88" x2="311.1" y2="113.88" stroke="#111" stroke-width="1.2" />
<rect x="288.8" y="95.04" width="13.1" height="18.1" fill="#fff" stroke="#111" stroke-width="1.8" />
<line x1="292.42" y1="97.07" x2="292.57" y2="111.07" stroke="#111" stroke-width="1.1" />
<line x1="298.12" y1="97.01" x2="298.27" y2="111.01" stroke="#111" stroke-width="1.1" />
<line x1="292.5" y1="104.07" x2="298.19" y2="104.01" stroke="#111" stroke-width="1.1" />
<rect x="273.46" y="118.45" width="42.2" height="3" fill="#fff" stroke="#111" stroke-width="1.4" />
<rect x="290.25" y="121.25" width="10" height="14.3" fill="#fff" stroke="#111" stroke-width="1.6" />
<line x1="296.47" y1="121.23" x2="296.62" y2="135.53" stroke="#111" stroke-width="1.0" />
<polygon points="273.65,138.27 278.33,135.72 311.32,135.38 315.35,137.84" fill="#fff" stroke="#111" stroke-width="1.6" />
<rect x="249.65" y="135.24" width="92.5" height="5.2" fill="#fff" stroke="#111" stroke-width="2.0" rx="1.5"/>
<line x1="252.35" y1="138.3" x2="339.35" y2="137.38" stroke="#111" stroke-width="1.6" stroke-dasharray="3 2"/>
<rect x="255.14" y="140.64" width="81.2" height="11.4" fill="#fff" stroke="#111" stroke-width="1.8" />
<rect x="251.52" y="152.05" width="87.8" height="5" fill="#fff" stroke="#111" stroke-width="1.9" rx="2"/>
<rect x="255.38" y="157.04" width="81.4" height="63.2" fill="#fff" stroke="#111" stroke-width="1.9" />
<rect x="252.23" y="220.24" width="88.3" height="3" fill="#fff" stroke="#111" stroke-width="1.7" />
<rect x="249.17" y="223.84" width="93.9" height="4.6" fill="#fff" stroke="#111" stroke-width="1.9" rx="2"/>
<polygon points="254.9,228.87 263.92,249.68 269.09,256.93 324.69,256.34 329.71,248.99 338.3,228" fill="#fff" stroke="#111" stroke-width="1.9" />
<line x1="269.08" y1="255.93" x2="324.68" y2="255.34" stroke="#111" stroke-width="1.6" />
<line x1="294.22" y1="30.05" x2="297.17" y2="312.04" stroke="#111" stroke-width="1.0" stroke-dasharray="14 2.5 2 2.5"/>
<line x1="327.55" y1="4.2" x2="325.45" y2="13.72" stroke="#111" stroke-width="1.3" />
<rect x="327.5" y="-2.33" width="5.2" height="3.6" fill="#111" stroke="none" stroke-width="0" />
<line x1="326.59" y1="122.52" x2="418.05" y2="146.56" stroke="#111" stroke-width="1.1" />
<line x1="335.05" y1="175.63" x2="422.9" y2="190.01" stroke="#111" stroke-width="1.1" />
<line x1="84.14" y1="214.26" x2="80.7" y2="239.3" stroke="#111" stroke-width="1.2" />
<polygon points="105.54,253.04 484.54,251.07 484.91,285.57 105.91,288.04" fill="url(#conc)" stroke="none" stroke-width="0" />
<polygon points="106.27,227.03 121.27,227.07 121.55,253.87 106.56,254.03" fill="url(#conc)" stroke="none" stroke-width="0" />
<polygon points="469.27,225.23 484.27,225.27 484.56,252.07 469.56,252.23" fill="url(#conc)" stroke="none" stroke-width="0" />
<rect x="246.88" y="250.54" width="98.5" height="28" fill="#fff" stroke="none" stroke-width="0" />
<line x1="246.74" y1="251.56" x2="247.02" y2="278.56" stroke="#111" stroke-width="3.4" />
<line x1="246.74" y1="251.56" x2="247.02" y2="278.56" stroke="#fff" stroke-width="1.0" stroke-dasharray="1.3 1.9"/>
<line x1="345.23" y1="250.53" x2="345.52" y2="278.53" stroke="#111" stroke-width="3.4" />
<line x1="345.23" y1="250.53" x2="345.52" y2="278.53" stroke="#fff" stroke-width="1.0" stroke-dasharray="1.3 1.9"/>
<line x1="247.02" y1="278.56" x2="345.52" y2="278.53" stroke="#111" stroke-width="3.4" />
<line x1="247.02" y1="278.56" x2="345.52" y2="278.53" stroke="#fff" stroke-width="1.0" stroke-dasharray="1.3 1.9"/>
<rect x="126.4" y="226.8" width="119" height="23.4" fill="url(#hBw)" stroke="#111" stroke-width="1.8" />
<rect x="134.32" y="227.19" width="28.8" height="8.8" fill="#fff" stroke="#111" stroke-width="1.6" />
<rect x="142.14" y="235.99" width="13.3" height="13.1" fill="#fff" stroke="#111" stroke-width="1.6" />
<rect x="346.4" y="225.39" width="119" height="23.8" fill="url(#hBw)" stroke="#111" stroke-width="1.8" />
<rect x="429.33" y="225.3" width="28" height="11.8" fill="#fff" stroke="#111" stroke-width="1.6" />
<rect x="436.05" y="237.1" width="14.1" height="10.9" fill="#fff" stroke="#111" stroke-width="1.6" />
<polyline points="121.77,226.87 122.05,253.27 246.55,253.26" fill="none" stroke="#111" stroke-width="4.0" />
<polyline points="121.77,226.87 122.05,253.27 246.55,253.26" fill="none" stroke="#fff" stroke-width="1.1" stroke-dasharray="1.3 1.9"/>
<polyline points="468.97,225.23 469.25,251.83 346.55,251.92" fill="none" stroke="#111" stroke-width="4.0" />
<polyline points="468.97,225.23 469.25,251.83 346.55,251.92" fill="none" stroke="#fff" stroke-width="1.1" stroke-dasharray="1.3 1.9"/>
<line x1="245.53" y1="251.27" x2="346.54" y2="251.22" stroke="#111" stroke-width="1.3" />
<line x1="105.27" y1="226.44" x2="245.27" y2="226.17" stroke="#111" stroke-width="2.2" />
<line x1="346.27" y1="226.02" x2="486.28" y2="226.05" stroke="#111" stroke-width="2.2" />
<line x1="104.26" y1="226.05" x2="104.93" y2="290.05" stroke="#111" stroke-width="3.6" />
<line x1="104.26" y1="226.05" x2="104.93" y2="290.05" stroke="#fff" stroke-width="1.1" stroke-dasharray="1.3 1.9"/>
<line x1="483.28" y1="226.08" x2="484.08" y2="302.08" stroke="#111" stroke-width="3.6" />
<line x1="483.28" y1="226.08" x2="484.08" y2="302.08" stroke="#fff" stroke-width="1.1" stroke-dasharray="1.3 1.9"/>
<line x1="487.78" y1="226.04" x2="488.58" y2="302.03" stroke="#111" stroke-width="1.6" />
<path d="M106.92,288.53 C114.25,288.62 135.26,289.23 150.92,289.07 C166.59,288.9 184.24,287.63 200.91,287.54 C217.58,287.45 234.26,288.53 250.92,288.52 C267.59,288.51 284.25,287.5 300.92,287.5 C317.58,287.49 334.26,288.48 350.93,288.47 C367.6,288.46 384.25,287.46 400.92,287.45 C417.59,287.44 436.93,288.32 450.93,288.42 C464.94,288.53 479.27,288.13 484.93,288.07" fill="none" stroke="#111" stroke-width="2.0" stroke-linejoin="round" stroke-linecap="round" />
<polygon points="104.97,293.35 486.99,293.35 487.07,301.65 105.06,301.95" fill="url(#conc3)" stroke="#111" stroke-width="2.2" />
<line x1="147.91" y1="220.59" x2="148.86" y2="311.59" stroke="#111" stroke-width="1.0" />
<line x1="442.8" y1="218.51" x2="443.79" y2="312.5" stroke="#111" stroke-width="1.0" />
<g clip-path="url(#gclip)" stroke="#111" stroke-width="1.9"><line x1="21.16" y1="323.69" x2="32.66" y2="312.19"/><line x1="25.76" y1="323.69" x2="37.26" y2="312.19"/><line x1="32.83" y1="318.92" x2="37.23" y2="323.32"/><line x1="34.95" y1="316.8" x2="39.35" y2="321.2"/><line x1="37.07" y1="314.68" x2="41.47" y2="319.08"/><line x1="39.19" y1="312.56" x2="43.59" y2="316.96"/><line x1="39.16" y1="323.69" x2="50.66" y2="312.19"/><line x1="43.76" y1="323.69" x2="55.26" y2="312.19"/><line x1="50.83" y1="318.92" x2="55.23" y2="323.32"/><line x1="52.95" y1="316.8" x2="57.35" y2="321.2"/><line x1="55.07" y1="314.68" x2="59.47" y2="319.08"/><line x1="57.19" y1="312.56" x2="61.59" y2="316.96"/><line x1="57.16" y1="323.69" x2="68.66" y2="312.19"/><line x1="61.76" y1="323.69" x2="73.26" y2="312.19"/><line x1="68.83" y1="318.92" x2="73.23" y2="323.32"/><line x1="70.95" y1="316.8" x2="75.35" y2="321.2"/><line x1="73.07" y1="314.68" x2="77.47" y2="319.08"/><line x1="75.19" y1="312.56" x2="79.59" y2="316.96"/><line x1="75.16" y1="323.69" x2="86.66" y2="312.19"/><line x1="79.76" y1="323.69" x2="91.26" y2="312.19"/><line x1="86.83" y1="318.92" x2="91.23" y2="323.32"/><line x1="88.95" y1="316.8" x2="93.35" y2="321.2"/><line x1="91.07" y1="314.68" x2="95.47" y2="319.08"/><line x1="93.19" y1="312.56" x2="97.59" y2="316.96"/><line x1="93.16" y1="323.69" x2="104.66" y2="312.19"/><line x1="97.76" y1="323.69" x2="109.26" y2="312.19"/><line x1="104.83" y1="318.92" x2="109.23" y2="323.32"/><line x1="106.95" y1="316.8" x2="111.35" y2="321.2"/><line x1="109.07" y1="314.68" x2="113.47" y2="319.08"/><line x1="111.19" y1="312.56" x2="115.59" y2="316.96"/><line x1="111.16" y1="323.69" x2="122.66" y2="312.19"/><line x1="115.76" y1="323.69" x2="127.26" y2="312.19"/><line x1="122.83" y1="318.92" x2="127.23" y2="323.32"/><line x1="124.95" y1="316.8" x2="129.35" y2="321.2"/><line x1="127.07" y1="314.68" x2="131.47" y2="319.08"/><line x1="129.19" y1="312.56" x2="133.59" y2="316.96"/><line x1="129.16" y1="323.69" x2="140.66" y2="312.19"/><line x1="133.76" y1="323.69" x2="145.26" y2="312.19"/><line x1="140.83" y1="318.92" x2="145.23" y2="323.32"/><line x1="142.95" y1="316.8" x2="147.35" y2="321.2"/><line x1="145.07" y1="314.68" x2="149.47" y2="319.08"/><line x1="147.19" y1="312.56" x2="151.59" y2="316.96"/><line x1="147.16" y1="323.69" x2="158.66" y2="312.19"/><line x1="151.76" y1="323.69" x2="163.26" y2="312.19"/><line x1="158.83" y1="318.92" x2="163.23" y2="323.32"/><line x1="160.95" y1="316.8" x2="165.35" y2="321.2"/><line x1="163.07" y1="314.68" x2="167.47" y2="319.08"/><line x1="165.19" y1="312.56" x2="169.59" y2="316.96"/><line x1="165.16" y1="323.69" x2="176.66" y2="312.19"/><line x1="169.76" y1="323.69" x2="181.26" y2="312.19"/><line x1="176.83" y1="318.92" x2="181.23" y2="323.32"/><line x1="178.95" y1="316.8" x2="183.35" y2="321.2"/><line x1="181.07" y1="314.68" x2="185.47" y2="319.08"/><line x1="183.19" y1="312.56" x2="187.59" y2="316.96"/><line x1="183.16" y1="323.69" x2="194.66" y2="312.19"/><line x1="187.76" y1="323.69" x2="199.26" y2="312.19"/><line x1="194.83" y1="318.92" x2="199.23" y2="323.32"/><line x1="196.95" y1="316.8" x2="201.35" y2="321.2"/><line x1="199.07" y1="314.68" x2="203.47" y2="319.08"/><line x1="201.19" y1="312.56" x2="205.59" y2="316.96"/><line x1="201.16" y1="323.69" x2="212.66" y2="312.19"/><line x1="205.76" y1="323.69" x2="217.26" y2="312.19"/><line x1="212.83" y1="318.92" x2="217.23" y2="323.32"/><line x1="214.95" y1="316.8" x2="219.35" y2="321.2"/><line x1="217.07" y1="314.68" x2="221.47" y2="319.08"/><line x1="219.19" y1="312.56" x2="223.59" y2="316.96"/><line x1="219.16" y1="323.69" x2="230.66" y2="312.19"/><line x1="223.76" y1="323.69" x2="235.26" y2="312.19"/><line x1="230.83" y1="318.92" x2="235.23" y2="323.32"/><line x1="232.95" y1="316.8" x2="237.35" y2="321.2"/><line x1="235.07" y1="314.68" x2="239.47" y2="319.08"/><line x1="237.19" y1="312.56" x2="241.59" y2="316.96"/><line x1="237.16" y1="323.69" x2="248.66" y2="312.19"/><line x1="241.76" y1="323.69" x2="253.26" y2="312.19"/><line x1="248.83" y1="318.92" x2="253.23" y2="323.32"/><line x1="250.95" y1="316.8" x2="255.35" y2="321.2"/><line x1="253.07" y1="314.68" x2="257.47" y2="319.08"/><line x1="255.19" y1="312.56" x2="259.59" y2="316.96"/><line x1="255.16" y1="323.69" x2="266.66" y2="312.19"/><line x1="259.76" y1="323.69" x2="271.26" y2="312.19"/><line x1="266.83" y1="318.92" x2="271.23" y2="323.32"/><line x1="268.95" y1="316.8" x2="273.35" y2="321.2"/><line x1="271.07" y1="314.68" x2="275.47" y2="319.08"/><line x1="273.19" y1="312.56" x2="277.59" y2="316.96"/><line x1="273.16" y1="323.69" x2="284.66" y2="312.19"/><line x1="277.76" y1="323.69" x2="289.26" y2="312.19"/><line x1="284.83" y1="318.92" x2="289.23" y2="323.32"/><line x1="286.95" y1="316.8" x2="291.35" y2="321.2"/><line x1="289.07" y1="314.68" x2="293.47" y2="319.08"/><line x1="291.19" y1="312.56" x2="295.59" y2="316.96"/><line x1="291.16" y1="323.69" x2="302.66" y2="312.19"/><line x1="295.76" y1="323.69" x2="307.26" y2="312.19"/><line x1="302.83" y1="318.92" x2="307.23" y2="323.32"/><line x1="304.95" y1="316.8" x2="309.35" y2="321.2"/><line x1="307.07" y1="314.68" x2="311.47" y2="319.08"/><line x1="309.19" y1="312.56" x2="313.59" y2="316.96"/><line x1="309.16" y1="323.69" x2="320.66" y2="312.19"/><line x1="313.76" y1="323.69" x2="325.26" y2="312.19"/><line x1="320.83" y1="318.92" x2="325.23" y2="323.32"/><line x1="322.95" y1="316.8" x2="327.35" y2="321.2"/><line x1="325.07" y1="314.68" x2="329.47" y2="319.08"/><line x1="327.19" y1="312.56" x2="331.59" y2="316.96"/><line x1="327.16" y1="323.69" x2="338.66" y2="312.19"/><line x1="331.76" y1="323.69" x2="343.26" y2="312.19"/><line x1="338.83" y1="318.92" x2="343.23" y2="323.32"/><line x1="340.95" y1="316.8" x2="345.35" y2="321.2"/><line x1="343.07" y1="314.68" x2="347.47" y2="319.08"/><line x1="345.19" y1="312.56" x2="349.59" y2="316.96"/><line x1="345.16" y1="323.69" x2="356.66" y2="312.19"/><line x1="349.76" y1="323.69" x2="361.26" y2="312.19"/><line x1="356.83" y1="318.92" x2="361.23" y2="323.32"/><line x1="358.95" y1="316.8" x2="363.35" y2="321.2"/><line x1="361.07" y1="314.68" x2="365.47" y2="319.08"/><line x1="363.19" y1="312.56" x2="367.59" y2="316.96"/><line x1="363.16" y1="323.69" x2="374.66" y2="312.19"/><line x1="367.76" y1="323.69" x2="379.26" y2="312.19"/><line x1="374.83" y1="318.92" x2="379.23" y2="323.32"/><line x1="376.95" y1="316.8" x2="381.35" y2="321.2"/><line x1="379.07" y1="314.68" x2="383.47" y2="319.08"/><line x1="381.19" y1="312.56" x2="385.59" y2="316.96"/><line x1="381.16" y1="323.69" x2="392.66" y2="312.19"/><line x1="385.76" y1="323.69" x2="397.26" y2="312.19"/><line x1="392.83" y1="318.92" x2="397.23" y2="323.32"/><line x1="394.95" y1="316.8" x2="399.35" y2="321.2"/><line x1="397.07" y1="314.68" x2="401.47" y2="319.08"/><line x1="399.19" y1="312.56" x2="403.59" y2="316.96"/><line x1="399.16" y1="323.69" x2="410.66" y2="312.19"/><line x1="403.76" y1="323.69" x2="415.26" y2="312.19"/><line x1="410.83" y1="318.92" x2="415.23" y2="323.32"/><line x1="412.95" y1="316.8" x2="417.35" y2="321.2"/><line x1="415.07" y1="314.68" x2="419.47" y2="319.08"/><line x1="417.19" y1="312.56" x2="421.59" y2="316.96"/><line x1="417.16" y1="323.69" x2="428.66" y2="312.19"/><line x1="421.76" y1="323.69" x2="433.26" y2="312.19"/><line x1="428.83" y1="318.92" x2="433.23" y2="323.32"/><line x1="430.95" y1="316.8" x2="435.35" y2="321.2"/><line x1="433.07" y1="314.68" x2="437.47" y2="319.08"/><line x1="435.19" y1="312.56" x2="439.59" y2="316.96"/><line x1="435.16" y1="323.69" x2="446.66" y2="312.19"/><line x1="439.76" y1="323.69" x2="451.26" y2="312.19"/><line x1="446.83" y1="318.92" x2="451.23" y2="323.32"/><line x1="448.95" y1="316.8" x2="453.35" y2="321.2"/><line x1="451.07" y1="314.68" x2="455.47" y2="319.08"/><line x1="453.19" y1="312.56" x2="457.59" y2="316.96"/><line x1="453.16" y1="323.69" x2="464.66" y2="312.19"/><line x1="457.76" y1="323.69" x2="469.26" y2="312.19"/><line x1="464.83" y1="318.92" x2="469.23" y2="323.32"/><line x1="466.95" y1="316.8" x2="471.35" y2="321.2"/><line x1="469.07" y1="314.68" x2="473.47" y2="319.08"/><line x1="471.19" y1="312.56" x2="475.59" y2="316.96"/><line x1="471.16" y1="323.69" x2="482.66" y2="312.19"/><line x1="475.76" y1="323.69" x2="487.26" y2="312.19"/><line x1="482.83" y1="318.92" x2="487.23" y2="323.32"/><line x1="484.95" y1="316.8" x2="489.35" y2="321.2"/><line x1="487.07" y1="314.68" x2="491.47" y2="319.08"/><line x1="489.19" y1="312.56" x2="493.59" y2="316.96"/><line x1="489.16" y1="323.69" x2="500.66" y2="312.19"/><line x1="493.76" y1="323.69" x2="505.26" y2="312.19"/><line x1="500.83" y1="318.92" x2="505.23" y2="323.32"/><line x1="502.95" y1="316.8" x2="507.35" y2="321.2"/><line x1="505.07" y1="314.68" x2="509.47" y2="319.08"/><line x1="507.19" y1="312.56" x2="511.59" y2="316.96"/><line x1="507.16" y1="323.69" x2="518.66" y2="312.19"/><line x1="511.76" y1="323.69" x2="523.26" y2="312.19"/><line x1="518.83" y1="318.92" x2="523.23" y2="323.32"/><line x1="520.95" y1="316.8" x2="525.35" y2="321.2"/><line x1="523.07" y1="314.68" x2="527.47" y2="319.08"/><line x1="525.19" y1="312.56" x2="529.59" y2="316.96"/><line x1="525.16" y1="323.69" x2="536.66" y2="312.19"/><line x1="529.76" y1="323.69" x2="541.26" y2="312.19"/><line x1="536.83" y1="318.92" x2="541.23" y2="323.32"/><line x1="538.95" y1="316.8" x2="543.35" y2="321.2"/><line x1="541.07" y1="314.68" x2="545.47" y2="319.08"/><line x1="543.19" y1="312.56" x2="547.59" y2="316.96"/><line x1="543.16" y1="323.69" x2="554.66" y2="312.19"/><line x1="547.76" y1="323.69" x2="559.26" y2="312.19"/><line x1="554.83" y1="318.92" x2="559.23" y2="323.32"/><line x1="556.95" y1="316.8" x2="561.35" y2="321.2"/><line x1="559.07" y1="314.68" x2="563.47" y2="319.08"/><line x1="561.19" y1="312.56" x2="565.59" y2="316.96"/><line x1="561.16" y1="323.69" x2="572.66" y2="312.19"/><line x1="565.76" y1="323.69" x2="577.26" y2="312.19"/><line x1="572.83" y1="318.92" x2="577.23" y2="323.32"/><line x1="574.95" y1="316.8" x2="579.35" y2="321.2"/><line x1="577.07" y1="314.68" x2="581.47" y2="319.08"/><line x1="579.19" y1="312.56" x2="583.59" y2="316.96"/></g>
<line x1="35.16" y1="312.79" x2="550.24" y2="312.79" stroke="#111" stroke-width="2.2"/>
<rect x="22.66" y="225.08" width="24.7" height="21.4" fill="url(#conc2)" stroke="#111" stroke-width="2.2" />
<g clip-path="url(#lg1)" stroke="#111" stroke-width="1.9"><line x1="46.39" y1="218.79" x2="33.89" y2="231.29"/><line x1="46.39" y1="223.39" x2="33.89" y2="234.89"/><line x1="41.12" y1="230.46" x2="45.52" y2="234.86"/><line x1="39" y1="232.58" x2="43.4" y2="236.98"/><line x1="36.88" y1="234.7" x2="41.28" y2="239.1"/><line x1="34.76" y1="236.82" x2="39.16" y2="241.22"/><line x1="46.39" y1="236.79" x2="33.89" y2="249.29"/><line x1="46.39" y1="241.39" x2="33.89" y2="252.89"/><line x1="41.12" y1="248.46" x2="45.52" y2="252.86"/><line x1="39" y1="250.58" x2="43.4" y2="254.98"/><line x1="36.88" y1="252.7" x2="41.28" y2="257.1"/><line x1="34.76" y1="254.82" x2="39.16" y2="259.22"/><line x1="46.39" y1="254.79" x2="33.89" y2="267.29"/><line x1="46.39" y1="259.39" x2="33.89" y2="270.89"/><line x1="41.12" y1="266.46" x2="45.52" y2="270.86"/><line x1="39" y1="268.58" x2="43.4" y2="272.98"/><line x1="36.88" y1="270.7" x2="41.28" y2="275.1"/><line x1="34.76" y1="272.82" x2="39.16" y2="277.22"/><line x1="46.39" y1="272.79" x2="33.89" y2="285.29"/><line x1="46.39" y1="277.39" x2="33.89" y2="288.89"/><line x1="41.12" y1="284.46" x2="45.52" y2="288.86"/><line x1="39" y1="286.58" x2="43.4" y2="290.98"/><line x1="36.88" y1="288.7" x2="41.28" y2="293.1"/><line x1="34.76" y1="290.82" x2="39.16" y2="295.22"/><line x1="46.39" y1="290.79" x2="33.89" y2="303.29"/><line x1="46.39" y1="295.39" x2="33.89" y2="306.89"/><line x1="41.12" y1="302.46" x2="45.52" y2="306.86"/><line x1="39" y1="304.58" x2="43.4" y2="308.98"/><line x1="36.88" y1="306.7" x2="41.28" y2="311.1"/><line x1="34.76" y1="308.82" x2="39.16" y2="313.22"/><line x1="46.39" y1="308.79" x2="33.89" y2="321.29"/><line x1="46.39" y1="313.39" x2="33.89" y2="324.89"/><line x1="41.12" y1="320.46" x2="45.52" y2="324.86"/><line x1="39" y1="322.58" x2="43.4" y2="326.98"/><line x1="36.88" y1="324.7" x2="41.28" y2="329.1"/><line x1="34.76" y1="326.82" x2="39.16" y2="331.22"/><line x1="46.39" y1="326.79" x2="33.89" y2="339.29"/><line x1="46.39" y1="331.39" x2="33.89" y2="342.89"/><line x1="41.12" y1="338.46" x2="45.52" y2="342.86"/><line x1="39" y1="340.58" x2="43.4" y2="344.98"/><line x1="36.88" y1="342.7" x2="41.28" y2="347.1"/><line x1="34.76" y1="344.82" x2="39.16" y2="349.22"/></g>
<g clip-path="url(#lg2)" stroke="#111" stroke-width="1.9"><line x1="33.89" y1="218.92" x2="21.39" y2="231.42"/><line x1="33.89" y1="223.52" x2="21.39" y2="235.02"/><line x1="28.62" y1="230.59" x2="33.02" y2="234.99"/><line x1="26.5" y1="232.71" x2="30.9" y2="237.11"/><line x1="24.38" y1="234.83" x2="28.78" y2="239.23"/><line x1="22.26" y1="236.95" x2="26.66" y2="241.35"/><line x1="33.89" y1="236.92" x2="21.39" y2="249.42"/><line x1="33.89" y1="241.52" x2="21.39" y2="253.02"/><line x1="28.62" y1="248.59" x2="33.02" y2="252.99"/><line x1="26.5" y1="250.71" x2="30.9" y2="255.11"/><line x1="24.38" y1="252.83" x2="28.78" y2="257.23"/><line x1="22.26" y1="254.95" x2="26.66" y2="259.35"/><line x1="33.89" y1="254.92" x2="21.39" y2="267.42"/><line x1="33.89" y1="259.52" x2="21.39" y2="271.02"/><line x1="28.62" y1="266.59" x2="33.02" y2="270.99"/><line x1="26.5" y1="268.71" x2="30.9" y2="273.11"/><line x1="24.38" y1="270.83" x2="28.78" y2="275.23"/><line x1="22.26" y1="272.95" x2="26.66" y2="277.35"/><line x1="33.89" y1="272.92" x2="21.39" y2="285.42"/><line x1="33.89" y1="277.52" x2="21.39" y2="289.02"/><line x1="28.62" y1="284.59" x2="33.02" y2="288.99"/><line x1="26.5" y1="286.71" x2="30.9" y2="291.11"/><line x1="24.38" y1="288.83" x2="28.78" y2="293.23"/><line x1="22.26" y1="290.95" x2="26.66" y2="295.35"/></g>
<line x1="48.57" y1="226.93" x2="49.36" y2="302.63" stroke="#111" stroke-width="3.6" />
<line x1="48.57" y1="226.93" x2="49.36" y2="302.63" stroke="#fff" stroke-width="1.1" stroke-dasharray="1.3 1.9"/>
<line x1="47.27" y1="226.95" x2="101.27" y2="226.38" stroke="#111" stroke-width="3.6" />
<line x1="47.27" y1="226.95" x2="101.27" y2="226.38" stroke="#fff" stroke-width="1.1" stroke-dasharray="1.3 1.9"/>
<rect x="55.49" y="245.53" width="45.1" height="5" fill="url(#sA)" stroke="#111" stroke-width="1.6" />
<rect x="67.23" y="239.06" width="33.7" height="6" fill="#fff" stroke="#111" stroke-width="1.8" />
<line x1="76.8" y1="239.34" x2="76.86" y2="244.84" stroke="#111" stroke-width="1.2" />
<line x1="80.4" y1="239.3" x2="80.46" y2="244.8" stroke="#111" stroke-width="1.2" />
<path d="M64.1,258.57 C64.01,257.94 63.66,256.68 65.58,256.16 C67.49,255.64 72.07,255.69 75.57,255.45 C79.07,255.22 84.39,254.59 86.56,254.74 C88.73,254.88 88.49,255.75 88.58,256.32 C88.67,256.88 89.09,257.68 87.1,258.13 C85.1,258.59 80.1,258.74 76.61,259.04 C73.11,259.35 68.2,260.03 66.11,259.95 C64.03,259.87 64.19,259.21 64.1,258.57Z" fill="#fff" stroke="#111" stroke-width="2.4" stroke-linejoin="round" stroke-linecap="round" />
<path d="M64.17,264.77 C64.08,264.14 63.73,262.88 65.64,262.36 C67.55,261.84 72.14,261.89 75.63,261.65 C79.13,261.42 84.46,260.79 86.63,260.94 C88.79,261.08 88.55,261.95 88.64,262.52 C88.73,263.08 89.16,263.88 87.16,264.33 C85.17,264.79 80.17,264.94 76.67,265.24 C73.17,265.55 68.26,266.23 66.18,266.15 C64.1,266.07 64.26,265.41 64.17,264.77Z" fill="#fff" stroke="#111" stroke-width="2.4" stroke-linejoin="round" stroke-linecap="round" />
<path d="M64.23,270.97 C64.14,270.34 63.79,269.08 65.71,268.56 C67.62,268.04 72.2,268.09 75.7,267.85 C79.2,267.62 84.52,266.99 86.69,267.14 C88.86,267.28 88.62,268.15 88.71,268.72 C88.8,269.28 89.22,270.08 87.23,270.53 C85.23,270.99 80.23,271.14 76.74,271.44 C73.24,271.75 68.33,272.43 66.24,272.35 C64.16,272.27 64.32,271.61 64.23,270.97Z" fill="#fff" stroke="#111" stroke-width="2.4" stroke-linejoin="round" stroke-linecap="round" />
<path d="M64.3,277.17 C64.21,276.54 63.86,275.28 65.77,274.76 C67.68,274.24 72.27,274.29 75.76,274.05 C79.26,273.82 84.59,273.19 86.76,273.34 C88.92,273.48 88.68,274.35 88.77,274.92 C88.86,275.48 89.29,276.28 87.29,276.73 C85.3,277.19 80.3,277.34 76.8,277.64 C73.3,277.94 68.39,278.63 66.31,278.55 C64.23,278.47 64.39,277.8 64.3,277.17Z" fill="#fff" stroke="#111" stroke-width="2.4" stroke-linejoin="round" stroke-linecap="round" />
<path d="M64.36,283.37 C64.27,282.74 63.92,281.48 65.83,280.96 C67.75,280.44 72.33,280.49 75.83,280.25 C79.33,280.02 84.65,279.39 86.82,279.54 C88.99,279.68 88.75,280.55 88.84,281.12 C88.93,281.68 89.35,282.48 87.36,282.93 C85.36,283.39 80.36,283.54 76.87,283.84 C73.37,284.14 68.46,284.83 66.37,284.75 C64.29,284.67 64.45,284 64.36,283.37Z" fill="#fff" stroke="#111" stroke-width="2.4" stroke-linejoin="round" stroke-linecap="round" />
<path d="M62.37,283.99 C62.36,283.33 61.43,282.42 63.85,281.98 C66.26,281.54 72.51,281.47 76.84,281.34 C81.17,281.21 87.42,280.9 89.84,281.21 C92.26,281.51 91.35,282.52 91.36,283.19 C91.37,283.86 92.29,284.76 89.88,285.2 C87.47,285.65 81.22,285.71 76.89,285.84 C72.55,285.97 66.31,286.29 63.89,285.98 C61.47,285.67 62.37,284.66 62.37,283.99Z" fill="#fff" stroke="#111" stroke-width="2.4" stroke-linejoin="round" stroke-linecap="round" />
<rect x="71.59" y="250.54" width="10" height="13.8" fill="#fff" stroke="#111" stroke-width="1.4" />
<line x1="76.53" y1="251.34" x2="76.66" y2="264.34" stroke="#111" stroke-width="1.0" />
<rect x="59.37" y="286.05" width="34" height="14.7" fill="url(#conc2)" stroke="#111" stroke-width="2.0" />
<rect x="59.31" y="286.05" width="34" height="4.3" fill="url(#sD)" stroke="#111" stroke-width="1.0" />
<rect x="59.51" y="304.05" width="34" height="6.7" fill="url(#conc2)" stroke="#111" stroke-width="1.8" />
<rect x="45.26" y="285.63" width="8.7" height="15" fill="#222" stroke="#111" stroke-width="1.2" />
<rect x="46.46" y="287.63" width="6" height="11" fill="url(#sD)" stroke="none" stroke-width="0" />
<rect x="45.42" y="304.63" width="8.7" height="6.4" fill="#222" stroke="#111" stroke-width="1.2" />
<line x1="77.06" y1="264.34" x2="77.56" y2="312.34" stroke="#111" stroke-width="1.0" />
<rect x="543.08" y="226" width="29.3" height="18.6" fill="url(#conc2)" stroke="#111" stroke-width="2.2" />
<g clip-path="url(#rg1)" stroke="#111" stroke-width="1.9"><line x1="555.91" y1="217.44" x2="544.41" y2="228.94"/><line x1="555.91" y1="222.04" x2="544.41" y2="233.54"/><line x1="551.14" y1="229.11" x2="555.54" y2="233.51"/><line x1="549.02" y1="231.23" x2="553.42" y2="235.63"/><line x1="546.89" y1="233.35" x2="551.29" y2="237.75"/><line x1="544.77" y1="235.47" x2="549.17" y2="239.87"/><line x1="555.91" y1="235.44" x2="544.41" y2="246.94"/><line x1="555.91" y1="240.04" x2="544.41" y2="251.54"/><line x1="551.14" y1="247.11" x2="555.54" y2="251.51"/><line x1="549.02" y1="249.23" x2="553.42" y2="253.63"/><line x1="546.89" y1="251.35" x2="551.29" y2="255.75"/><line x1="544.77" y1="253.47" x2="549.17" y2="257.87"/><line x1="555.91" y1="253.44" x2="544.41" y2="264.94"/><line x1="555.91" y1="258.04" x2="544.41" y2="269.54"/><line x1="551.14" y1="265.11" x2="555.54" y2="269.51"/><line x1="549.02" y1="267.23" x2="553.42" y2="271.63"/><line x1="546.89" y1="269.35" x2="551.29" y2="273.75"/><line x1="544.77" y1="271.47" x2="549.17" y2="275.87"/><line x1="555.91" y1="271.44" x2="544.41" y2="282.94"/><line x1="555.91" y1="276.04" x2="544.41" y2="287.54"/><line x1="551.14" y1="283.11" x2="555.54" y2="287.51"/><line x1="549.02" y1="285.23" x2="553.42" y2="289.63"/><line x1="546.89" y1="287.35" x2="551.29" y2="291.75"/><line x1="544.77" y1="289.47" x2="549.17" y2="293.87"/><line x1="555.91" y1="289.44" x2="544.41" y2="300.94"/><line x1="555.91" y1="294.04" x2="544.41" y2="305.54"/><line x1="551.14" y1="301.11" x2="555.54" y2="305.51"/><line x1="549.02" y1="303.23" x2="553.42" y2="307.63"/><line x1="546.89" y1="305.35" x2="551.29" y2="309.75"/><line x1="544.77" y1="307.47" x2="549.17" y2="311.87"/><line x1="555.91" y1="307.44" x2="544.41" y2="318.94"/><line x1="555.91" y1="312.04" x2="544.41" y2="323.54"/><line x1="551.14" y1="319.11" x2="555.54" y2="323.51"/><line x1="549.02" y1="321.23" x2="553.42" y2="325.63"/><line x1="546.89" y1="323.35" x2="551.29" y2="327.75"/><line x1="544.77" y1="325.47" x2="549.17" y2="329.87"/><line x1="555.91" y1="325.44" x2="544.41" y2="336.94"/><line x1="555.91" y1="330.04" x2="544.41" y2="341.54"/><line x1="551.14" y1="337.11" x2="555.54" y2="341.51"/><line x1="549.02" y1="339.23" x2="553.42" y2="343.63"/><line x1="546.89" y1="341.35" x2="551.29" y2="345.75"/><line x1="544.77" y1="343.47" x2="549.17" y2="347.87"/></g>
<g clip-path="url(#rg2)" stroke="#111" stroke-width="1.9"><line x1="567.9" y1="217.32" x2="555.9" y2="229.32"/><line x1="567.9" y1="221.92" x2="555.9" y2="233.42"/><line x1="562.89" y1="228.99" x2="567.29" y2="233.39"/><line x1="560.77" y1="231.11" x2="565.17" y2="235.51"/><line x1="558.64" y1="233.23" x2="563.04" y2="237.63"/><line x1="556.52" y1="235.35" x2="560.92" y2="239.75"/><line x1="567.9" y1="235.32" x2="555.9" y2="247.32"/><line x1="567.9" y1="239.92" x2="555.9" y2="251.42"/><line x1="562.89" y1="246.99" x2="567.29" y2="251.39"/><line x1="560.77" y1="249.11" x2="565.17" y2="253.51"/><line x1="558.64" y1="251.23" x2="563.04" y2="255.63"/><line x1="556.52" y1="253.35" x2="560.92" y2="257.75"/><line x1="567.9" y1="253.32" x2="555.9" y2="265.32"/><line x1="567.9" y1="257.92" x2="555.9" y2="269.42"/><line x1="562.89" y1="264.99" x2="567.29" y2="269.39"/><line x1="560.77" y1="267.11" x2="565.17" y2="271.51"/><line x1="558.64" y1="269.23" x2="563.04" y2="273.63"/><line x1="556.52" y1="271.35" x2="560.92" y2="275.75"/><line x1="567.9" y1="271.32" x2="555.9" y2="283.32"/><line x1="567.9" y1="275.92" x2="555.9" y2="287.42"/><line x1="562.89" y1="282.99" x2="567.29" y2="287.39"/><line x1="560.77" y1="285.11" x2="565.17" y2="289.51"/><line x1="558.64" y1="287.23" x2="563.04" y2="291.63"/><line x1="556.52" y1="289.35" x2="560.92" y2="293.75"/></g>
<line x1="492.31" y1="228.49" x2="541.31" y2="227.97" stroke="#111" stroke-width="3.6" />
<line x1="492.31" y1="228.49" x2="541.31" y2="227.97" stroke="#fff" stroke-width="1.1" stroke-dasharray="1.3 1.9"/>
<line x1="541.6" y1="227.47" x2="542.38" y2="301.47" stroke="#111" stroke-width="3.6" />
<line x1="541.6" y1="227.47" x2="542.38" y2="301.47" stroke="#fff" stroke-width="1.1" stroke-dasharray="1.3 1.9"/>
<polygon points="491,236.9 513.7,237.16 526.03,239.84 526.09,245.43 491.09,245.8" fill="#fff" stroke="#111" stroke-width="1.8" />
<line x1="514.28" y1="234.76" x2="514.39" y2="245.56" stroke="#111" stroke-width="1.3" />
<rect x="491.12" y="245.57" width="43.8" height="6.1" fill="url(#sA)" stroke="#111" stroke-width="1.6" />
<polygon points="491.15,251.9 507.25,251.73 507.37,262.43 491.28,263.6" fill="#fff" stroke="#111" stroke-width="1.8" />
<rect x="507.31" y="251.66" width="13.9" height="10.5" fill="#fff" stroke="#111" stroke-width="1.8" />
<line x1="514.45" y1="251.76" x2="514.56" y2="262.16" stroke="#111" stroke-width="1.2" />
<rect x="521.18" y="251.56" width="4.4" height="5.1" fill="#fff" stroke="#111" stroke-width="1.4" />
<rect x="487.27" y="234.02" width="3.9" height="39" fill="url(#sB)" stroke="#111" stroke-width="1.2" />
<line x1="514.56" y1="262.16" x2="514.83" y2="287.76" stroke="#111" stroke-width="1.2" stroke-dasharray="2 1.6"/>
<polygon points="498.74,269.92 502.24,269.89 502.38,283.39 526.38,283.13 526.24,269.63 529.74,269.6 529.92,286.6 498.92,286.92" fill="#111" stroke="none" stroke-width="0" />
<rect x="503.31" y="270.76" width="22" height="11.8" fill="#fff" stroke="#111" stroke-width="1.4" />
<polygon points="493.93,287.47 531.92,287.08 530.03,297.1 496.03,297.45" fill="url(#conc2)" stroke="#111" stroke-width="1.8" />
<rect x="533.98" y="287.99" width="12" height="9" fill="url(#conc2)" stroke="#111" stroke-width="1.8" />
<rect x="493.13" y="302.48" width="38" height="8.3" fill="url(#conc2)" stroke="#111" stroke-width="1.8" />
<rect x="534.13" y="302.19" width="12" height="8.3" fill="url(#conc2)" stroke="#111" stroke-width="1.8" /></g></svg>
<div class="lb" style="left:433.5px;top:144px;font-size:16px">3</div>
<div class="lb" style="left:433.5px;top:187px;font-size:16px">4</div>
<div class="lb" style="left:82px;top:191.5px;font-size:17px">5</div>

<div class="t" id="t0">Рис. 10. Схема стенда для испытания дисков <span style="letter-spacing:0.5px;margin-left:1.6px">колёс</span></div>
<div class="t" id="t1">1 – колесо с испытуемым диском; 2 – нагрузочный вибромеханизм с несбалан-</div>
<div class="t" id="t2">сированными грузом; 3 – вал с упругой муфтой; 4 –электродвигатель; 5 – упру-</div>
<div class="t" id="t3">гая опора основания стенда.</div>
</body></html>
